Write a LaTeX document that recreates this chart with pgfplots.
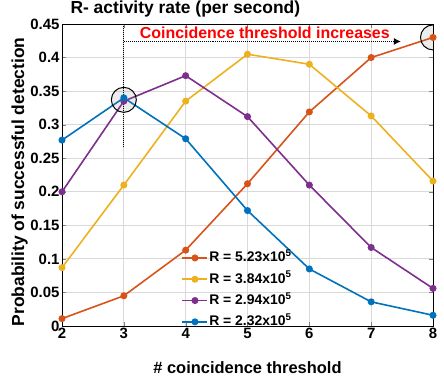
\documentclass[border=0pt]{standalone}
\usepackage{pgfplots}
\pgfplotsset{compat=1.18}
\usepackage{fontspec}
\setmainfont{Liberation Sans}
\usetikzlibrary{arrows.meta}
\definecolor{morange}{rgb}{0.85,0.325,0.098}
\definecolor{myellow}{rgb}{0.929,0.694,0.125}
\definecolor{mpurple}{rgb}{0.494,0.184,0.556}
\definecolor{mblue}{rgb}{0,0.447,0.741}
\begin{document}
\begin{tikzpicture}[x=1bp,y=1bp]
\begin{axis}[
  at={(62bp,53bp)}, anchor=south west,
  scale only axis, width=371bp, height=302bp,
  xmin=2, xmax=8, ymin=0, ymax=0.45,
  xtick={2,3,4,5,6,7,8},
  ytick={0,0.05,0.1,0.15,0.2,0.25,0.3,0.35,0.4,0.45},
  yticklabel style={/pgf/number format/fixed, xshift=1bp},
  /pgf/number format/assume math mode=true,
  ticklabel style={font=\fontsize{15}{17}\selectfont\bfseries},
  xticklabel style={yshift=1bp},
  tick align=inside, major tick length=4bp,
  grid=major, grid style={gray!30, line width=0.8pt},
  axis line style={line width=1pt},
  xlabel={\# coincidence threshold},
  ylabel={Probability of successful detection},
  xlabel style={at={(axis description cs:0.5,-0.156)}, anchor=base, font=\fontsize{16.5}{19}\selectfont\bfseries},
  ylabel style={at={(axis description cs:-0.102,0.477)}, anchor=base, rotate=0, font=\fontsize{17.5}{20}\selectfont\bfseries},
  title={R- activity rate (per second)},
  title style={at={(rel axis cs:0,1)}, anchor=base west, xshift=5bp, yshift=4.5bp, font=\fontsize{17.5}{20}\selectfont\bfseries},
  legend style={at={(rel axis cs:0.322,0.25)}, anchor=north west, draw=none, fill=none,
    font=\fontsize{14}{16}\selectfont\bfseries, row sep=6.8bp, inner sep=0pt,
    nodes={inner sep=1bp, text height=10bp, text depth=2.5bp}},
  legend cell align=left,
  legend image code/.code={\draw[mark repeat=2, mark phase=2] plot coordinates {(0bp,0bp) (12.5bp,0bp) (25bp,0bp)};},
  every axis plot/.append style={line width=1.6pt, mark=*, mark size=2.7pt},
]
\addplot[color=morange, mark options={fill=morange}] coordinates {(2,0.011) (3,0.045) (4,0.113) (5,0.212) (6,0.319) (7,0.400) (8,0.430)};
\addlegendentry{R = 5.23x10\textsuperscript{5}}
\addplot[color=myellow, mark options={fill=myellow}] coordinates {(2,0.087) (3,0.210) (4,0.335) (5,0.405) (6,0.390) (7,0.313) (8,0.216)};
\addlegendentry{R = 3.84x10\textsuperscript{5}}
\addplot[color=mpurple, mark options={fill=mpurple}] coordinates {(2,0.200) (3,0.335) (4,0.373) (5,0.312) (6,0.210) (7,0.117) (8,0.056)};
\addlegendentry{R = 2.94x10\textsuperscript{5}}
\addplot[color=mblue, mark options={fill=mblue}] coordinates {(2,0.277) (3,0.340) (4,0.279) (5,0.172) (6,0.085) (7,0.036) (8,0.016)};
\addlegendentry{R = 2.32x10\textsuperscript{5}}
\draw[black, line width=1pt, fill=gray, fill opacity=0.15] (axis cs:3,0.337) circle[radius=12.5bp];
\draw[black, line width=1pt, fill=gray, fill opacity=0.15] (axis cs:8,0.430) circle[radius=12.5bp];
\draw[densely dotted, line width=1pt] (axis cs:3,0.45) -- (axis cs:3,0.267);
\draw[densely dotted, line width=1pt, -{Latex[length=7bp,width=7bp]}] (axis cs:3,0.424) -- (axis cs:7.48,0.424);
\node[text=red, font=\fontsize{16}{18}\selectfont\bfseries, anchor=base] at (axis cs:5.28,0.4285) {Coincidence threshold increases};
\end{axis}
\pgfresetboundingbox
\useasboundingbox (0,0) rectangle (444bp,379bp);
\end{tikzpicture}
\end{document}
